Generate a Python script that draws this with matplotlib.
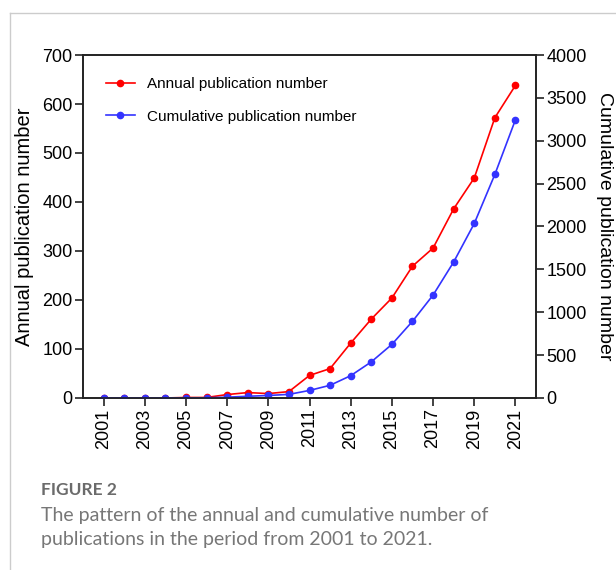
import matplotlib
matplotlib.use("Agg")
import matplotlib.pyplot as plt
from matplotlib.lines import Line2D

# Data
years = list(range(2001, 2022))
annual = [0, 0, 0, 0, 1, 1, 7, 11, 9, 13, 46, 60, 112, 161, 204, 269, 306, 386, 449, 572, 638]
cumulative = [0, 0, 0, 0, 1, 2, 9, 20, 29, 42, 88, 148, 260, 421, 625, 894, 1200, 1586, 2035, 2607, 3245]
year_ticks = list(range(2001, 2022, 2))
left_ticks = [0, 100, 200, 300, 400, 500, 600, 700]
right_ticks = [0, 500, 1000, 1500, 2000, 2500, 3000, 3500, 4000]

plt.rcParams["font.family"] = ["Liberation Sans", "DejaVu Sans"]

fig = plt.figure(figsize=(6.16, 5.70), dpi=100)
ax = fig.add_axes([0.1347, 0.3018, 0.7355, 0.6017])
ax2 = ax.twinx()

# Red annual series on left axis, blue cumulative on right axis
l1, = ax.plot(years, annual, color="#ff0000", marker="o", markersize=4.5, linewidth=1.2,
              label="Annual publication number")
l2, = ax2.plot(years, cumulative, color="#3333ff", marker="o", markersize=4.5, linewidth=1.2,
               label="Cumulative publication number")

ax.set_xlim(2000, 2022)
ax.set_ylim(0, 700)
ax2.set_ylim(0, 4000)
ax.set_xticks(year_ticks)
ax.set_xticklabels([str(y) for y in year_ticks], rotation=90)
ax.set_yticks(left_ticks)
ax2.set_yticks(right_ticks)

for a in (ax, ax2):
    for s in a.spines.values():
        s.set_linewidth(1.2)
        s.set_color("#222222")
    a.tick_params(direction="out", length=6, width=1.2, labelsize=13, color="#222222", pad=1.5)

ax.set_ylabel("Annual publication number", fontsize=14.5, labelpad=6)
ax2.set_ylabel("Cumulative publication number", fontsize=14, rotation=270, labelpad=19)

ax.legend(handles=[l1, l2], loc="upper left", bbox_to_anchor=(0.02, 0.975), frameon=False,
          fontsize=11, handlelength=1.9, labelspacing=1.2, handletextpad=0.8)

# Caption frame and text
fig.add_artist(Line2D([10 / 616, 1], [1 - 13 / 570, 1 - 13 / 570], color="#cccccc", linewidth=1))
fig.add_artist(Line2D([10 / 616, 10 / 616], [0, 1 - 13 / 570], color="#cccccc", linewidth=1))
fig.text(41 / 616, 1 - 490 / 570, "FIGURE 2", fontsize=12.5, fontweight="bold", color="#6b6b6b",
         family=["Lato", "DejaVu Sans"], va="center")
fig.text(41 / 616, 1 - 516 / 570, "The pattern of the annual and cumulative number of",
         fontsize=14, color="#777777", family=["Lato", "DejaVu Sans"], va="center")
fig.text(41 / 616, 1 - 539 / 570, "publications in the period from 2001 to 2021.",
         fontsize=14, color="#777777", family=["Lato", "DejaVu Sans"], va="center")

fig.savefig("out.png", dpi=100)
